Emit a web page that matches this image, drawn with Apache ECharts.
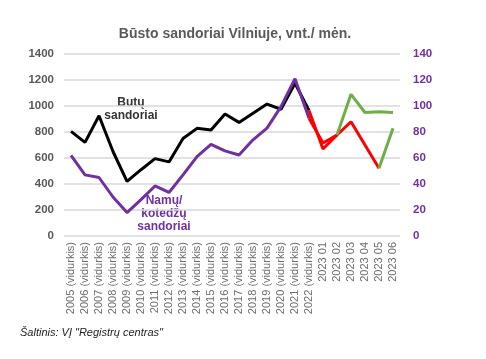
<!DOCTYPE html>
<html>
<head>
<meta charset="utf-8">
<script src="https://cdn.jsdelivr.net/npm/echarts@6/dist/echarts.min.js"></script>
<style>html,body{margin:0;padding:0;background:#fff}#c{width:486px;height:359px}</style>
</head>
<body>
<div id="c"></div>
<script>
var categories = ['2005 (vidurkis)','2006 (vidurkis)','2007 (vidurkis)','2008 (vidurkis)','2009 (vidurkis)','2010 (vidurkis)','2011 (vidurkis)','2012 (vidurkis)','2013 (vidurkis)','2014 (vidurkis)','2015 (vidurkis)','2016 (vidurkis)','2017 (vidurkis)','2018 (vidurkis)','2019 (vidurkis)','2020 (vidurkis)','2021 (vidurkis)','2022 (vidurkis)','2023 01','2023 02','2023 03','2023 04','2023 05','2023 06'];
// Butų sandoriai (left axis)
var butuYearly = [805,720,925,650,420,510,595,570,750,828,815,938,874,945,1015,975,1175,965,null,null,null,null,null,null];
var butuRed    = [null,null,null,null,null,null,null,null,null,null,null,null,null,null,null,null,null,965,670,777,879,700,521,null];
var butuGreen  = [null,null,null,null,null,null,null,null,null,null,null,null,null,null,null,null,null,null,null,null,null,null,521,828];
// Namų/kotedžų sandoriai (right axis)
var namuYearly = [62,47,45,30,18,28,38.5,33.5,47,61,70.5,65.5,62.3,74,83,99.5,121,90.5,null,null,null,null,null,null];
var namuRed    = [null,null,null,null,null,null,null,null,null,null,null,null,null,null,null,null,null,90.5,71.5,77.7,null,null,null,null];
var namuGreen  = [null,null,null,null,null,null,null,null,null,null,null,null,null,null,null,null,null,null,null,77.7,109,95,95.6,95];
var leftTicks = {min:0, max:1400, interval:200};
var rightTicks = {min:0, max:140, interval:20};

var chart = echarts.init(document.getElementById('c'), null, {renderer:'canvas'});
function line(name, data, color, yIdx, z) {
  return {name:name, type:'line', data:data, yAxisIndex:yIdx, symbol:'none', smooth:false,
    connectNulls:false, z:z, lineStyle:{color:color, width:3}, itemStyle:{color:color}};
}
chart.setOption({
  animation:false,
  title:{text:'Būsto sandoriai Vilniuje, vnt./ mėn.', left:230, textAlign:'center', top:22,
    textStyle:{fontFamily:'Liberation Sans', fontSize:14, fontWeight:'bold', color:'#595959'}},
  grid:{left:64, right:86, top:54, bottom:123},
  xAxis:{type:'category', data:categories, boundaryGap:true,
    axisLine:{show:false}, axisTick:{show:false},
    axisLabel:{rotate:90, interval:0, margin:6, fontFamily:'Liberation Sans', fontSize:11, color:'#6e6e6e'}},
  yAxis:[
    {type:'value', min:leftTicks.min, max:leftTicks.max, interval:leftTicks.interval, position:'left',
      axisLine:{show:false}, axisTick:{show:false},
      axisLabel:{fontFamily:'Liberation Sans', fontSize:11.5, fontWeight:'bold', color:'#595959', margin:10,
        formatter:function(v){return String(v);}},
      splitLine:{lineStyle:{color:'#d9d9d9', width:1.5}}},
    {type:'value', min:rightTicks.min, max:rightTicks.max, interval:rightTicks.interval, position:'right',
      axisLine:{show:false}, axisTick:{show:false},
      axisLabel:{fontFamily:'Liberation Sans', fontSize:11.5, fontWeight:'bold', color:'#7030A0', margin:13,
        formatter:function(v){return String(v);}},
      splitLine:{show:false}}
  ],
  series:[
    line('Butų sandoriai', butuYearly, '#000000', 0, 2),
    line('Namų/kotedžų sandoriai', namuYearly, '#7030A0', 1, 3),
    line('Butų 2023', butuRed, '#FF0000', 0, 4),
    line('Namų 2023', namuRed, '#FF0000', 1, 4),
    line('Butų 2023 g', butuGreen, '#70AD47', 0, 5),
    line('Namų 2023 g', namuGreen, '#70AD47', 1, 5)
  ],
  graphic:[
    {type:'text', x:131, y:96, style:{text:'Butų\nsandoriai', fill:'#333', align:'center',
      font:'bold 12px "Liberation Sans"', lineHeight:13}},
    {type:'text', x:164, y:194, style:{text:'Namų/\nkotedžų\nsandoriai', fill:'#7030A0', align:'center',
      font:'bold 12px "Liberation Sans"', lineHeight:13}},
    {type:'text', x:20, y:327, style:{text:'Šaltinis: VĮ "Registrų centras"', fill:'#222',
      font:'italic 11px "Liberation Sans"'}}
  ]
});
</script>
</body>
</html>
